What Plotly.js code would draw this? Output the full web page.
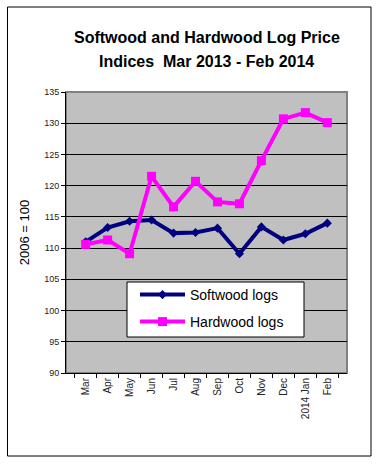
<!DOCTYPE html>
<html>
<head>
<meta charset="utf-8">
<script src="https://cdn.plot.ly/plotly-3.0.1.min.js"></script>
<style>html,body{margin:0;padding:0;background:#fff;}#chart{width:382px;height:465px;}</style>
</head>
<body>
<div id="chart"></div>
<script>
const months = ["Mar","Apr","May","Jun","Jul","Aug","Sep","Oct","Nov","Dec","2014 Jan","Feb"];
const softwood = [111.0,113.3,114.3,114.5,112.4,112.5,113.2,109.1,113.4,111.3,112.3,114.0];
const hardwood = [110.6,111.3,109.1,121.5,116.6,120.7,117.4,117.1,124.0,130.7,131.7,130.1];
const yTicks = [90,95,100,105,110,115,120,125,130,135];
const titleLines = ["Softwood and Hardwood Log Price", "Indices  Mar 2013 - Feb 2014"];

const L = 66, R = 347, T = 92, B = 373;
function px(x){return (x-L)/(R-L);}
function py(y){return (B-y)/(B-T);}

const traces = [
  {x: months, y: softwood, name: "Softwood logs", type: "scatter", mode: "lines+markers",
   line: {color: "#000080", width: 4}, marker: {symbol: "diamond", size: 7, color: "#000080"},
   legend: "legend"},
  {x: months, y: hardwood, name: "Hardwood logs", type: "scatter", mode: "lines+markers",
   line: {color: "#FF00FF", width: 4}, marker: {symbol: "square", size: 9, color: "#FF00FF"},
   legend: "legend2"}
];

const ff = "Arial, Liberation Sans, sans-serif";
const legFont = {family: ff, size: 14, color: "#000"};
const titleFont = {size: 16, family: ff, weight: "bold", color: "#000"};
const layout = {
  width: 382, height: 465,
  margin: {l: L, r: 382-R, t: T, b: 465-B, pad: 0},
  paper_bgcolor: "#ffffff",
  plot_bgcolor: "#C0C0C0",
  font: {family: ff, color: "#000"},
  annotations: [
    {text: titleLines[0], xref: "paper", yref: "paper", x: px(206.5), y: py(38), xanchor: "center", yanchor: "middle", showarrow: false, font: titleFont},
    {text: titleLines[1], xref: "paper", yref: "paper", x: px(206.5), y: py(62), xanchor: "center", yanchor: "middle", showarrow: false, font: titleFont}
  ],
  xaxis: {type: "category", tickangle: -90, ticks: "outside", ticklen: 4, tickcolor: "#000",
          tickson: "boundaries", showline: true, linecolor: "#000", linewidth: 1,
          showgrid: false, tickfont: {size: 10, color: "#222"}, fixedrange: true},
  yaxis: {range: [90, 135], tickvals: yTicks, ticktext: yTicks.map(String), ticks: "outside",
          ticklen: 4, tickcolor: "#000", showline: true, linecolor: "#000", linewidth: 1,
          showgrid: true, gridcolor: "#000", gridwidth: 1, zeroline: false,
          tickfont: {size: 9, color: "#222"},
          title: {text: "2006 = 100", font: {size: 13, color: "#000"}, standoff: 11}},
  showlegend: true,
  legend: {x: px(135), y: py(279), xanchor: "left", yanchor: "top", bgcolor: "rgba(0,0,0,0)",
           borderwidth: 0, font: legFont, itemwidth: 45},
  legend2: {x: px(135), y: py(306), xanchor: "left", yanchor: "top", bgcolor: "rgba(0,0,0,0)",
           borderwidth: 0, font: legFont, itemwidth: 45},
  shapes: [
    {type: "rect", xref: "paper", yref: "paper", x0: 0, x1: 1, y0: 0, y1: 1,
     line: {color: "#808080", width: 2}, layer: "below"},
    {type: "rect", xref: "paper", yref: "paper", x0: px(127), x1: px(304), y0: py(337), y1: py(282),
     fillcolor: "#ffffff", line: {color: "#000", width: 1}, layer: "above"},
    {type: "rect", xref: "paper", yref: "paper", x0: px(7.5), x1: px(371), y0: py(456), y1: py(7),
     line: {color: "#000", width: 1}, layer: "above"}
  ]
};
Plotly.newPlot("chart", traces, layout, {staticPlot: true, displayModeBar: false});
</script>
</body>
</html>
